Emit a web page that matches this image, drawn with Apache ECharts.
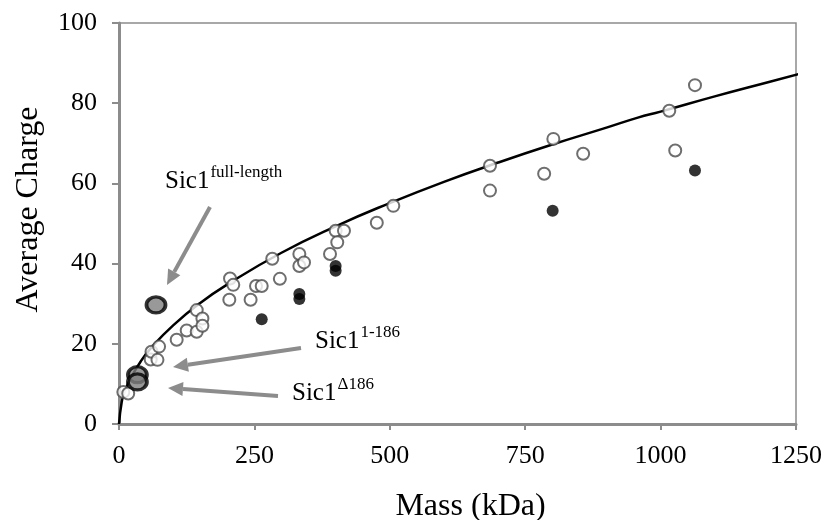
<!DOCTYPE html>
<html>
<head>
<meta charset="utf-8">
<script src="https://cdn.jsdelivr.net/npm/echarts@6/dist/echarts.min.js"></script>
<style>html,body{margin:0;padding:0;background:#fff;}#c{width:827px;height:520px;}</style>
</head>
<body>
<div id="c"></div>
<script>
// Open circles (other proteins)
const openMass   = [8, 17, 58.5, 60, 71, 74, 106.5, 125, 143.5, 143.5, 154, 154, 203.7, 205, 211, 243, 253, 263.5, 283, 297, 333, 333, 341.6, 389.6, 400, 403, 415.4, 476, 506.5, 685, 685, 785, 802, 857, 1016, 1027, 1063.5];
const openCharge = [8.0, 7.6, 16.1, 18.0, 16.0, 19.3, 21.0, 23.3, 28.4, 23.0, 26.3, 24.5, 31.0, 36.3, 34.7, 31.0, 34.4, 34.4, 41.2, 36.2, 42.4, 39.4, 40.3, 42.4, 48.2, 45.3, 48.2, 50.2, 54.4, 64.4, 58.2, 62.4, 71.1, 67.4, 78.1, 68.2, 84.5];
// Filled black circles
const blackMass   = [263.5, 333, 333, 400, 400, 800.7, 1063.5];
const blackCharge = [26.1, 32.4, 31.2, 39.4, 38.2, 53.2, 63.2];
// Sic1 constructs
const sicMass   = [34, 34, 68.3];
const sicCharge = [12.3, 10.5, 29.7];
// Fitted curve
const curveMass   = [0, 5, 10, 20, 40, 60, 100, 150, 200, 300, 400, 500, 600, 700, 800, 900, 958, 1000, 1100, 1200, 1270];
const curveCharge = [0, 5.5, 7.8, 11, 15.6, 19.1, 24.6, 30.2, 34.8, 42.7, 49.3, 55.1, 60.4, 65.2, 69.7, 73.9, 76.4, 77.9, 81.7, 85.3, 87.8];
// Axis ticks
const xTicks = [0, 250, 500, 750, 1000, 1250];
const yTicks = [0, 20, 40, 60, 80, 100];

const pair = (a, b) => a.map((v, i) => [v, b[i]]);
const serif = '"Liberation Serif", "Times New Roman", serif';
const gray = '#8c8c8c';

function arrow(x1, y1, x2, y2) {
  const ang = Math.atan2(y2 - y1, x2 - x1);
  const L = 15, W = 7;
  const bx = x2 - L * Math.cos(ang), by = y2 - L * Math.sin(ang);
  const px = -Math.sin(ang) * W, py = Math.cos(ang) * W;
  return [
    { type: 'line', shape: { x1: x1, y1: y1, x2: bx, y2: by }, style: { stroke: gray, lineWidth: 4 } },
    { type: 'polygon', shape: { points: [[x2, y2], [bx + px, by + py], [bx - px, by - py]] }, style: { fill: gray } }
  ];
}
function label(x, y, sup) {
  return {
    type: 'text', left: x, top: y,
    style: {
      text: '{a|Sic1}{b|' + sup + '}',
      rich: {
        a: { fontFamily: serif, fontSize: 25, fill: '#000', verticalAlign: 'bottom', lineHeight: 30 },
        b: { fontFamily: serif, fontSize: 17, fill: '#000', verticalAlign: 'top', lineHeight: 30, padding: [0, 0, 12, 1] }
      }
    }
  };
}

const chart = echarts.init(document.getElementById('c'));
chart.setOption({
  animation: false,
  grid: { left: 119, right: 31, top: 23, bottom: 96, show: true, borderColor: gray, borderWidth: 1.5,
          containLabel: false, outerBoundsMode: 'none' },
  xAxis: {
    type: 'value', min: 0, max: 1250, interval: 250,
    name: 'Mass (kDa)', nameLocation: 'middle', nameGap: 67,
    nameTextStyle: { fontFamily: serif, fontSize: 32, color: '#000', padding: [0, 0, 0, 26] },
    axisLine: { lineStyle: { color: gray, width: 3 } },
    axisTick: { show: true, length: 6, lineStyle: { color: gray, width: 2 } },
    splitLine: { show: false },
    axisLabel: { fontFamily: serif, fontSize: 26, color: '#000', margin: 19,
      formatter: v => xTicks.indexOf(v) >= 0 ? String(v) : '' }
  },
  yAxis: {
    type: 'value', min: 0, max: 100, interval: 20,
    name: 'Average Charge', nameLocation: 'middle', nameGap: 74,
    nameTextStyle: { fontFamily: serif, fontSize: 32, color: '#000', padding: [0, 0, 0, 28] },
    axisLine: { lineStyle: { color: gray, width: 3 } },
    axisTick: { show: true, length: 7, lineStyle: { color: gray, width: 2 } },
    splitLine: { show: false },
    axisLabel: { fontFamily: serif, fontSize: 26, color: '#000', margin: 22,
      formatter: v => yTicks.indexOf(v) >= 0 ? String(v) : '' }
  },
  series: [
    { type: 'line', data: pair(curveMass, curveCharge), smooth: true, showSymbol: false, clip: false,
      lineStyle: { color: '#000', width: 2.5 }, z: 2 },
    { type: 'scatter', data: pair(openMass, openCharge), symbol: 'circle', symbolSize: 12,
      itemStyle: { color: '#fff', borderColor: '#4a4a4a', borderWidth: 2 }, z: 3 },
    { type: 'scatter', data: pair(blackMass, blackCharge), symbol: 'circle', symbolSize: 12,
      itemStyle: { color: '#000' }, z: 4 },
    { type: 'scatter', data: pair(sicMass, sicCharge), symbol: 'circle', symbolSize: [19, 16],
      itemStyle: { color: '#7f7f7f', borderColor: '#000', borderWidth: 3.5 }, z: 5 }
  ],
  graphic: [
    ...arrow(210, 207, 167, 285),
    ...arrow(301, 348, 173, 367),
    ...arrow(278, 396, 168, 388),
    label(165, 164, 'full-length'),
    label(315, 324, '1-186'),
    label(292, 376, '\u0394186')
  ]
});
</script>
</body>
</html>
